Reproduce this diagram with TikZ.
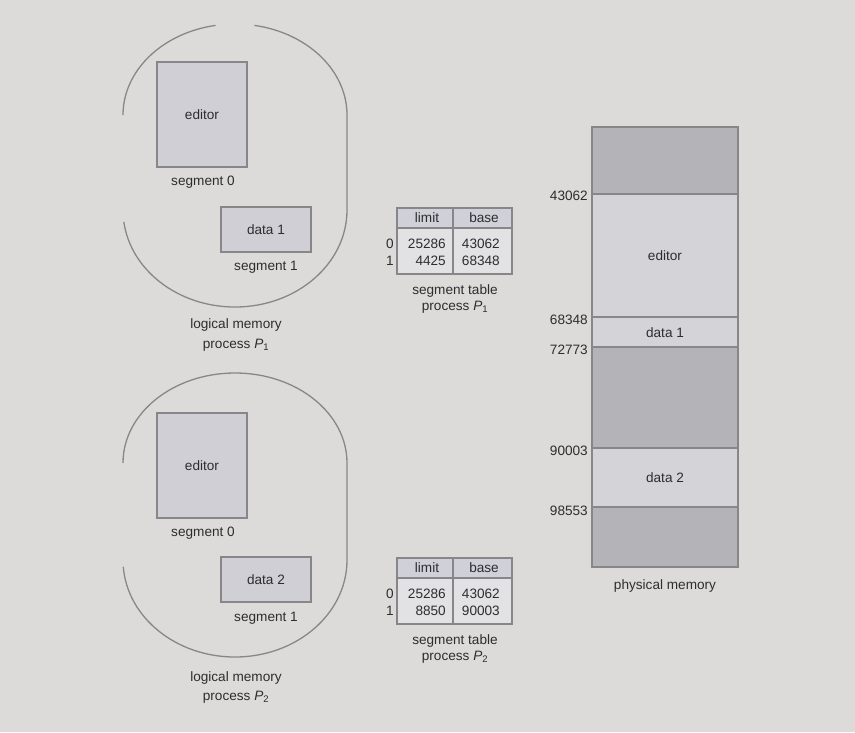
\documentclass[tikz,border=0pt]{standalone}
\usepackage{fontspec}
\setmainfont{Liberation Sans}
\definecolor{bg}{RGB}{220,219,217}
\definecolor{lineg}{RGB}{135,135,138}
\definecolor{boxfill}{RGB}{207,207,213}
\definecolor{darkseg}{RGB}{180,180,184}
\definecolor{lightseg}{RGB}{212,212,216}
\definecolor{hdrfill}{RGB}{208,208,216}
\definecolor{bodyfill}{RGB}{226,226,228}
\definecolor{txt}{RGB}{45,45,48}
\begin{document}
\begin{tikzpicture}[x=1pt,y=-1pt,
  every node/.style={font=\fontsize{13.6}{15}\selectfont, text=txt, inner sep=0pt},
  lbox/.style={draw=lineg, line width=1.4pt, fill=boxfill},
  blob/.style={draw=lineg, line width=1.3pt},
  seg/.style={draw=lineg, line width=1.3pt},
  tab/.style={draw=lineg, line width=1.2pt}]
\fill[bg] (0,0) rectangle (855,732);
\useasboundingbox (0,0) rectangle (855,732);

% ---------- logical memory P1 ----------
\draw[blob] (123,115) arc[start angle=180, end angle=260, x radius=112, y radius=91];
\draw[blob] (254.45,25.38) arc[start angle=280, end angle=360, x radius=112, y radius=91]
  -- (347,210) arc[start angle=0, end angle=173, x radius=112, y radius=97];
\node[lbox, minimum width=90, minimum height=105] (ed1) at (202,114.5) {editor};
\node (s01) at (203,182) {segment 0};
\node[lbox, minimum width=90, minimum height=45] (d1) at (266,229.5) {data 1};
\node (s11) at (266,267) {segment 1};
\node (lm1) at (236,325) {logical memory};
\node (pr1) at (236,345) {process \textit{P}\textsubscript{1}};

% ---------- logical memory P2 ----------
\draw[blob] (123,463) arc[start angle=180, end angle=360, x radius=112, y radius=90]
  -- (347,560) arc[start angle=0, end angle=176, x radius=112, y radius=97];
\node[lbox, minimum width=90, minimum height=105] (ed2) at (202,465.5) {editor};
\node (s02) at (203,533) {segment 0};
\node[lbox, minimum width=90, minimum height=45] (d2) at (266,579.5) {data 2};
\node (s12) at (266,618) {segment 1};
\node (lm2) at (236,678) {logical memory};
\node (pr2) at (236,697) {process \textit{P}\textsubscript{2}};

% ---------- segment table P1 ----------
\fill[hdrfill] (397,208) rectangle (512,228);
\fill[bodyfill] (397,228) rectangle (512,274);
\draw[tab] (397,208) rectangle (512,274);
\draw[tab] (397,228) -- (512,228);
\draw[tab] (453,208) -- (453,274);
\node (lim1) at (427,218) {limit};
\node (bas1) at (484,218) {base};
\node (r01) at (390,244) {0};
\node (r11) at (390,261) {1};
\node[anchor=east] (l01) at (446,244) {25286};
\node[anchor=east] (b01) at (500,244) {43062};
\node[anchor=east] (l11) at (446,261) {4425};
\node[anchor=east] (b11) at (500,261) {68348};
\node (st1) at (455,291) {segment table};
\node (sp1) at (455,307) {process \textit{P}\textsubscript{1}};

% ---------- segment table P2 ----------
\fill[hdrfill] (397,558) rectangle (512,578);
\fill[bodyfill] (397,578) rectangle (512,624);
\draw[tab] (397,558) rectangle (512,624);
\draw[tab] (397,578) -- (512,578);
\draw[tab] (453,558) -- (453,624);
\node (lim2) at (427,568) {limit};
\node (bas2) at (484,568) {base};
\node (r02) at (390,594) {0};
\node (r12) at (390,611) {1};
\node[anchor=east] (l02) at (446,594) {25286};
\node[anchor=east] (b02) at (500,594) {43062};
\node[anchor=east] (l12) at (446,611) {8850};
\node[anchor=east] (b12) at (500,611) {90003};
\node (st2) at (455,641) {segment table};
\node (sp2) at (455,657) {process \textit{P}\textsubscript{2}};

% ---------- physical memory ----------
\draw[seg, fill=darkseg] (592,127) rectangle (738,194);
\draw[seg, fill=lightseg] (592,194) rectangle (738,317);
\draw[seg, fill=lightseg] (592,317) rectangle (738,347);
\draw[seg, fill=darkseg] (592,347) rectangle (738,448);
\draw[seg, fill=lightseg] (592,448) rectangle (738,507);
\draw[seg, fill=darkseg] (592,507) rectangle (738,567);
\node (ped) at (665,256) {editor};
\node (pd1) at (665,333) {data 1};
\node (pd2) at (665,478) {data 2};
\node[anchor=east] (a1) at (588,196) {43062};
\node[anchor=east] (a2) at (588,320) {68348};
\node[anchor=east] (a3) at (588,350) {72773};
\node[anchor=east] (a4) at (588,451) {90003};
\node[anchor=east] (a5) at (588,511) {98553};
\node (pm) at (665,586) {physical memory};
\end{tikzpicture}
\end{document}
